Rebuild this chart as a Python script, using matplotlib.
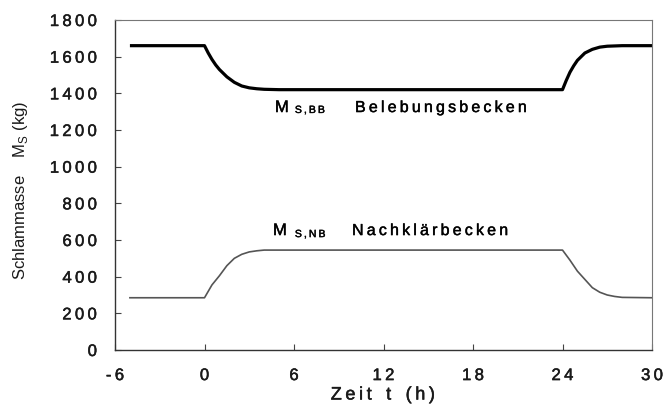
import matplotlib
matplotlib.use("Agg")
import matplotlib.pyplot as plt
import matplotlib.patheffects as pe

plt.rcParams['font.family'] = ['Liberation Sans', 'DejaVu Sans']
plt.rcParams['mathtext.fontset'] = 'custom'
plt.rcParams['mathtext.rm'] = 'Liberation Sans'

# Belebungsbecken (activated sludge tank) sludge mass
t_bb = [-5, 0, 0.25, 0.5, 0.75, 1, 1.5, 2, 2.5, 3, 3.5, 4, 5, 24,
        24.25, 24.5, 24.75, 25, 25.5, 26, 26.5, 27, 28, 30]
m_bb = [1660, 1660, 1620, 1585, 1555, 1530, 1490, 1460, 1440, 1430, 1425, 1422, 1420, 1420,
        1470, 1515, 1550, 1580, 1620, 1640, 1652, 1657, 1660, 1660]

# Nachklärbecken (secondary clarifier) sludge mass
t_nb = [-5, 0, 0.25, 0.5, 0.75, 1, 1.5, 2, 2.5, 3, 3.5, 4, 24,
        24.5, 25, 25.5, 26, 26.5, 27, 27.5, 28, 30]
m_nb = [285, 285, 320, 355, 380, 405, 460, 500, 522, 535, 541, 545, 545,
        490, 430, 385, 340, 315, 300, 292, 287, 285]

xticks = [-6, 0, 6, 12, 18, 24, 30]
yticks = [0, 200, 400, 600, 800, 1000, 1200, 1400, 1600, 1800]

TS = '\u2009'


def spaced(s):
    return TS.join(list(s))


fx = [pe.withStroke(linewidth=0.35, foreground='#1a1a1a')]

fig = plt.figure(figsize=(6.63, 4.05), dpi=100)
ax = fig.add_axes([115/663, 1-350/405, (652-115)/663, (350-20)/405])

ax.plot(t_bb, m_bb, color='black', lw=2.3, solid_capstyle='butt')
ax.plot(t_nb, m_nb, color='#555555', lw=1.2)

ax.set_xlim(-6, 30)
ax.set_ylim(0, 1800)
ax.set_xticks(xticks)
ax.set_yticks(yticks)
ax.set_xticklabels([spaced(str(v)) for v in xticks], fontsize=12, color='#1a1a1a', path_effects=fx)
ax.set_yticklabels([spaced(str(v)) for v in yticks], fontsize=12, color='#1a1a1a', path_effects=fx)
ax.tick_params(axis='y', direction='in', length=4, width=0.8, color='#444444', right=False, pad=13)
ax.tick_params(axis='x', direction='in', length=4, width=0.8, color='#444444', top=False, pad=13)
for s in ['left', 'bottom']:
    ax.spines[s].set_linewidth(1.0)
    ax.spines[s].set_color('#333333')
for s in ['top', 'right']:
    ax.spines[s].set_linewidth(0.8)
    ax.spines[s].set_color('#777777')

fig.text(383/663, 1-395/405, 'Z e i t    t    ( h )'.replace(' ', TS), fontsize=13,
         ha='center', va='center', color='#1a1a1a', path_effects=fx)
fig.text(21/663, 1-190/405, r'Schlammasse    M$_\mathregular{S}$ (kg)', fontsize=12,
         rotation=90, ha='center', va='center', color='#1a1a1a')

# annotations
ax.text(4.72, 1298, 'M', fontsize=12, ha='left', va='baseline', path_effects=fx)
ax.text(6.06, 1293, spaced('S,BB'), fontsize=7.5, ha='left', va='baseline', path_effects=fx)
ax.text(10.09, 1298, spaced('Belebungsbecken'), fontsize=11.5, ha='left', va='baseline', path_effects=fx)

ax.text(4.59, 627, 'M', fontsize=12, ha='left', va='baseline', path_effects=fx)
ax.text(6.06, 616, spaced('S,NB'), fontsize=7.5, ha='left', va='baseline', path_effects=fx)
ax.text(9.89, 627, spaced('Nachklärbecken'), fontsize=11.5, ha='left', va='baseline', path_effects=fx)

fig.savefig('out.png', dpi=100)
